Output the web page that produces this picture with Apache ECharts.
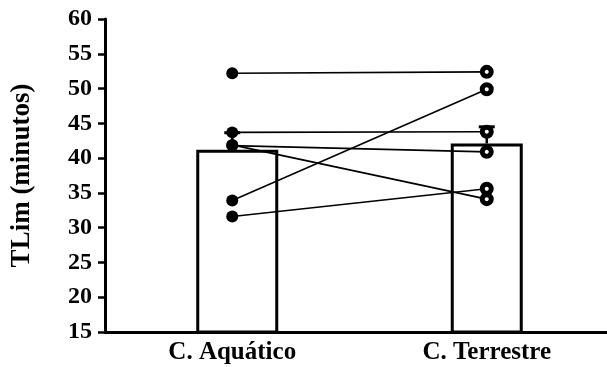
<!DOCTYPE html>
<html>
<head>
<meta charset="utf-8">
<script src="https://cdn.jsdelivr.net/npm/echarts@6/dist/echarts.min.js"></script>
<style>
  html, body { margin: 0; padding: 0; background: #fff; }
  #chart { width: 607px; height: 367px; }
</style>
</head>
<body>
<div id="chart"></div>
<script>
// Conditions and tick layout
const categories = ['C. Aquático', 'C. Terrestre'];
const yMin = 15;
const yMax = 60;
const yStep = 5;

// Group means and standard errors (upper bar only)
const meanValues = [41.2, 42.1];
const semValues = [2.45, 2.4];

// Individual subjects, paired across conditions
const aquatico = [52.2, 43.7, 41.8, 41.9, 33.9, 31.6];
const terrestre = [52.4, 43.8, 40.9, 34.1, 49.9, 35.6];

const FONT = '"Liberation Serif", "Times New Roman", serif';

const chart = echarts.init(document.getElementById('chart'), null, { renderer: 'canvas' });

const subjectSeries = aquatico.map((a, i) => ({
  type: 'line',
  z: 5,
  data: [
    { value: a, symbol: 'circle', symbolSize: 12, itemStyle: { color: '#000', borderWidth: 0 } },
    { value: terrestre[i], symbol: 'circle', symbolSize: 9, itemStyle: { color: '#fff', borderColor: '#000', borderWidth: 5 } }
  ],
  lineStyle: { color: '#000', width: 1.6 },
  showSymbol: true,
  animation: false,
  emphasis: { disabled: true }
}));

const barStyle = { color: '#fff', borderColor: '#000', borderWidth: 3 };

const option = {
  animation: false,
  // the x axis runs a little past the right edge of the canvas
  grid: { left: 105, width: 509, top: 19, bottom: 35, containLabel: false, outerBoundsMode: 'none' },
  xAxis: {
    type: 'category',
    data: categories,
    boundaryGap: true,
    axisLine: { lineStyle: { color: '#000', width: 3 } },
    axisTick: { alignWithLabel: true, length: 8, lineStyle: { color: '#000', width: 3 } },
    axisLabel: { color: '#000', fontFamily: FONT, fontWeight: 'bold', fontSize: 25, margin: 8 }
  },
  yAxis: {
    type: 'value',
    min: yMin,
    max: yMax,
    interval: yStep,
    name: 'TLim (minutos)',
    nameLocation: 'middle',
    nameGap: 69,
    nameTextStyle: { color: '#000', fontFamily: FONT, fontWeight: 'bold', fontSize: 27 },
    splitLine: { show: false },
    axisLine: { show: true, lineStyle: { color: '#000', width: 3 } },
    axisTick: { show: true, length: 7, lineStyle: { color: '#000', width: 2.5 } },
    axisLabel: { color: '#000', fontFamily: FONT, fontWeight: 'bold', fontSize: 24, margin: 13 }
  },
  series: [
    {
      type: 'bar',
      data: [meanValues[0], null],
      barWidth: 82,
      barGap: '-100%',
      itemStyle: barStyle,
      z: 2
    },
    {
      type: 'bar',
      data: [null, meanValues[1]],
      barWidth: 72,
      itemStyle: barStyle,
      z: 2
    },
    {
      type: 'custom',
      z: 4,
      data: meanValues.map((m, i) => [i, m, m + semValues[i]]),
      renderItem: function (params, api) {
        const x = api.value(0);
        const base = api.coord([x, api.value(1)]);
        const top = api.coord([x, api.value(2)]);
        const half = 8;
        return {
          type: 'group',
          children: [
            { type: 'line', shape: { x1: base[0], y1: base[1], x2: top[0], y2: top[1] }, style: { stroke: '#000', lineWidth: 2.5 } },
            { type: 'line', shape: { x1: top[0] - half, y1: top[1], x2: top[0] + half, y2: top[1] }, style: { stroke: '#000', lineWidth: 3 } }
          ]
        };
      }
    },
    ...subjectSeries
  ]
};

chart.setOption(option);
</script>
</body>
</html>
